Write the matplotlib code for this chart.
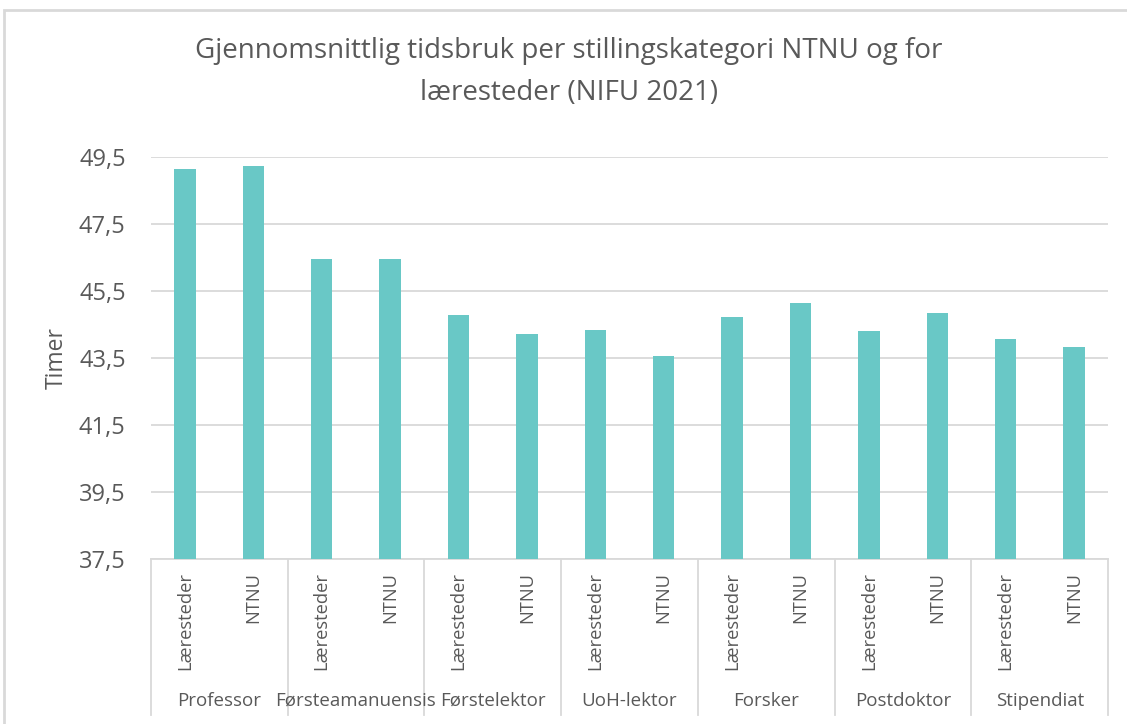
import matplotlib
matplotlib.use("Agg")
import matplotlib.pyplot as plt
import matplotlib.patches as patches
import matplotlib.transforms as mtransforms

plt.rcParams['font.family'] = ['Open Sans', 'DejaVu Sans']

categories = ["Professor", "Førsteamanuensis", "Førstelektor", "UoH-lektor",
              "Forsker", "Postdoktor", "Stipendiat"]
series = ["Læresteder", "NTNU"]
laeresteder = [49.13, 46.44, 44.78, 44.34, 44.72, 44.29, 44.08]
ntnu = [49.23, 46.44, 44.23, 43.55, 45.13, 44.85, 43.83]
yticks = [37.5, 39.5, 41.5, 43.5, 45.5, 47.5, 49.5]
ytick_labels = ["37,5", "39,5", "41,5", "43,5", "45,5", "47,5", "49,5"]

text_color = "#595959"
grid_color = "#D9D9D9"
bar_color = "#69C8C6"

W, H = 1127, 724
fig = plt.figure(figsize=(W / 100, H / 100), dpi=100)
ax = fig.add_axes([150.7 / W, 1 - 559.3 / H, (1108.3 - 150.7) / W, (559.3 - 156.7) / H])

xs, vals, labels = [], [], []
for i in range(len(categories)):
    for j, s in enumerate(series):
        xs.append(2 * i + j)
        vals.append(laeresteder[i] if j == 0 else ntnu[i])
        labels.append(s)

ax.bar(xs, [v - yticks[0] for v in vals], bottom=yticks[0], width=0.31,
       color=bar_color, zorder=3)

ax.set_xlim(-0.5, 2 * len(categories) - 0.5)
ax.set_ylim(yticks[0], yticks[-1])
ax.set_yticks(yticks)
ax.set_yticklabels(ytick_labels, fontsize=17, color=text_color)
ax.set_xticks(xs)
ax.set_xticklabels(labels, rotation=90, fontsize=13.2, color=text_color, va='top', ha='center')
ax.tick_params(axis='y', length=0, pad=18)
ax.tick_params(axis='x', length=0, pad=9.5)
ax.grid(axis='y', color=grid_color, linewidth=1.3, zorder=0)
for sp in ['top', 'right', 'left']:
    ax.spines[sp].set_visible(False)
ax.spines['bottom'].set_color(grid_color)
ax.spines['bottom'].set_linewidth(1.3)

trans = mtransforms.blended_transform_factory(ax.transData, ax.transAxes)
ybot = (559.3 - 715) / (559.3 - 156.7)
for k in range(len(categories) + 1):
    xb = 2 * k - 0.5
    ax.plot([xb, xb], [0, ybot], transform=trans, color=grid_color, lw=1.3, clip_on=False)
ylab = (559.3 - 701) / (559.3 - 156.7)
for i, c in enumerate(categories):
    ax.text(2 * i + 0.5, ylab, c, transform=trans, ha='center', va='center',
            fontsize=13.5, color=text_color)

fig.text(57 / W, 1 - 358 / H, "Timer", rotation=90, ha='center', va='center',
         fontsize=16.5, color=text_color)
fig.text(0.505, 1 - 72 / H,
         "Gjennomsnittlig tidsbruk per stillingskategori NTNU og for\nlæresteder (NIFU 2021)",
         ha='center', va='center', fontsize=20, color=text_color, linespacing=1.62)

fig.patches.append(patches.Rectangle((4 / W, -0.02), 1.05, 1 - 10 / H + 0.02,
                                     transform=fig.transFigure, fill=False,
                                     edgecolor=grid_color, lw=2))

fig.savefig("out.png", dpi=100)
